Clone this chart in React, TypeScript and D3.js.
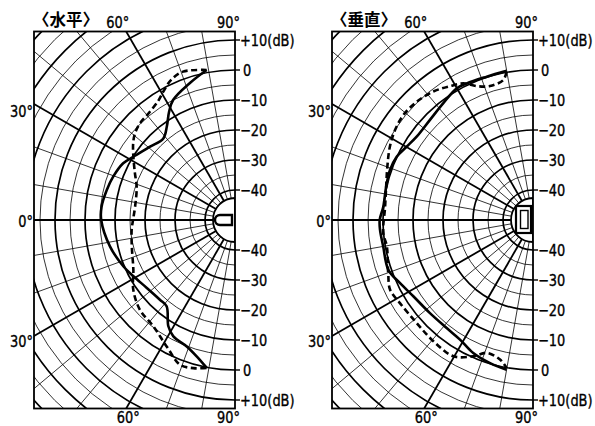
import React from 'react';
import * as d3 from 'd3';

// ---------- data ----------
const dbTickValues = [10, 0, -10, -20, -30, -40];
const dbTickLabels = ['+10(dB)', '0', '−10', '−20', '−30', '−40'];
const gridDbLevels = [-40, -35, -30, -25, -20, -15, -10, -5, 0, 5, 10, 15, 20, 25, 30, 35, 40];
const spokeAngles = [-80, -70, -60, -50, -40, -30, -20, -10, 0, 10, 20, 30, 40, 50, 60, 70, 80];
const majorSpokeAngles = [-60, -30, 0, 30, 60];
const panelTitles = ['〈水平〉', '〈垂直〉'];

// 水平 (horizontal) – angle in degrees (0 = left axis, +90 = up), level in dB
const horizSolidAngles = [79.3, 71.8, 62.7, 58.6, 54.1, 48.7, 40.8, 31.9, 26.9, 19.6, 13.2, 5.7, 0, -11.9, -22.5, -29, -37.6, -46.7, -51.6, -57.9, -62.1, -69.1, -74.3, -79.2];
const horizSolidDb = [0.9, -1.9, -5.0, -7.8, -11.3, -13.8, -12.6, -10.1, -8.2, -6.9, -6.1, -5.3, -5.4, -7.4, -9.7, -11.3, -12.9, -13.5, -13.3, -8.2, -6.1, -4.9, -2.8, 0.2];
const horizDashedAngles = [79.3, 70.7, 65.4, 60.8, 57.1, 50.6, 45.5, 40.9, 37, 31.9, 25, 18.7, 7.6, 0, -5.4, -14.3, -26, -34.4, -43.4, -52.5, -61.6, -69.2, -74.3, -79.2];
const horizDashedDb = [0.9, 2.4, 1.3, -1.0, -2.8, -4.3, -4.8, -5.9, -7.5, -10.1, -13.2, -15.4, -16.4, -16, -15.4, -14.5, -12.3, -8.9, -6.4, -5.3, -2.1, 1.6, 1.3, 0.2];

// 垂直 (vertical)
const vertSolidAngles = [80, 72.1, 64.1, 59.9, 52.5, 44.2, 35.6, 30.1, 24.9, 19.3, 12.8, 5.1, 0, -3.6, -10, -19, -25.3, -32.5, -42.1, -51.4, -58.6, -65.8, -73.3, -80];
const vertSolidDb = [0.5, 0.2, 0.6, 0.7, -0.9, -2.1, -2.3, -1.3, 0.1, 0.5, 0.2, 0.1, 1.1, 1.1, 0.7, 1.0, -0.9, -2.7, -3.7, -3.9, -3.3, -1.4, -0.2, 0.7];
const vertDashedAngles = [79.9, 78, 72.2, 67.2, 63, 58.2, 52.2, 45.5, 39, 33.1, 27.1, 20.1, 12.8, 5.1, -5, -10.2, -20.1, -26, -32, -41.5, -50.6, -59.7, -66.3, -70.8, -76.7, -79.9];
const vertDashedDb = [0.2, -2.3, -3.1, -1.6, 1.1, 2.5, 4.2, 5.3, 5.6, 4.9, 3.6, 1.7, 0.2, -0.5, 0.1, -0.5, 1.4, 3.0, 2.3, 1.8, 2.3, 2.6, -0.4, -3.1, -2.2, 0.1];

// ---------- layout ----------
const W = 595;
const H = 426;
const CY = 220;
const BOX_W = 201;
const BOX_TOP = 188.5;
const BOX_BOTTOM = 188.5;
const INNER_R = 22;

const rScale = d3.scaleLinear().domain([-40, 10]).range([30, 180]);

const toRad = (deg: number) => (deg * Math.PI) / 180;

const lineGen = d3
  .lineRadial<[number, number]>()
  .angle((d) => toRad(d[0] - 90))
  .radius((d) => rScale(d[1]))
  .curve(d3.curveCatmullRom.alpha(0.5));

const zip = (a: number[], b: number[]): [number, number][] => a.map((v, i) => [v, b[i]]);

const FONT = "'DejaVu Sans Condensed', 'DejaVu Sans', sans-serif";
const CJK = "'Noto Sans CJK JP', 'Noto Sans CJK SC', sans-serif";
const FS = 16;
const SX = 0.9;

type LabelProps = {
  x: number;
  y: number;
  anchor?: 'start' | 'middle' | 'end';
  middle?: boolean;
  children: React.ReactNode;
};

function Label({ x, y, anchor = 'start', middle = false, children }: LabelProps) {
  return (
    <g transform={`translate(${x},${y}) scale(${SX},1)`}>
      <text
        x={0}
        y={0}
        dy={middle ? '0.36em' : undefined}
        textAnchor={anchor}
        fontFamily={FONT}
        fontSize={FS}
        fill="#000"
        stroke="#000"
        strokeWidth={0.35}
      >
        {children}
      </text>
    </g>
  );
}

type PanelProps = {
  id: string;
  cx: number;
  title: string;
  solid: [number, number][];
  dashed: [number, number][];
  icon: 'h' | 'v';
};

function Panel({ id, cx, title, solid, dashed, icon }: PanelProps) {
  const clipId = `clip-${id}`;
  const t30 = Math.tan(toRad(30));
  const t60 = Math.tan(toRad(60));
  return (
    <g transform={`translate(${cx},${CY})`}>
      <defs>
        <clipPath id={clipId}>
          <rect x={-BOX_W} y={-BOX_TOP} width={BOX_W} height={BOX_TOP + BOX_BOTTOM} />
        </clipPath>
      </defs>
      <rect x={-BOX_W} y={-BOX_TOP} width={BOX_W} height={BOX_TOP + BOX_BOTTOM} fill="#fff" />
      <g clipPath={`url(#${clipId})`}>
        {gridDbLevels.map((L) => {
          const r = rScale(L);
          const major = L % 10 === 0;
          return (
            <path
              key={`c${L}`}
              d={`M0,${-r}A${r},${r} 0 0 0 0,${r}`}
              fill="none"
              stroke="#000"
              strokeWidth={major ? 1.7 : 0.8}
            />
          );
        })}
        {spokeAngles.map((a) => {
          const major = majorSpokeAngles.includes(a);
          const r0 = INNER_R;
          const r1 = 320;
          return (
            <line
              key={`s${a}`}
              x1={-r0 * Math.cos(toRad(a))}
              y1={-r0 * Math.sin(toRad(a))}
              x2={-r1 * Math.cos(toRad(a))}
              y2={-r1 * Math.sin(toRad(a))}
              stroke="#000"
              strokeWidth={major ? 1.8 : 0.8}
            />
          );
        })}
        <path
          d={`M0,${-INNER_R}A${INNER_R},${INNER_R} 0 0 0 0,${INNER_R}Z`}
          fill="#fff"
          stroke="#000"
          strokeWidth={1.8}
        />
        <path d={lineGen(dashed) || ''} fill="none" stroke="#000" strokeWidth={2.6} strokeDasharray="6,3.5" />
        <path d={lineGen(solid) || ''} fill="none" stroke="#000" strokeWidth={2.6} strokeLinejoin="round" />
      </g>
      {icon === 'h' ? (
        <path d="M-3,-5H-15A5,5 0 0 0 -15,5H-3Z" fill="#fff" stroke="#000" strokeWidth={2.4} />
      ) : (
        <g>
          <rect x={-17} y={-14} width={15} height={27} fill="#fff" stroke="#000" strokeWidth={2.2} />
          <rect x={-12.5} y={-9.5} width={7.5} height={18} fill="none" stroke="#000" strokeWidth={1.4} />
        </g>
      )}
      <rect
        x={-BOX_W}
        y={-BOX_TOP}
        width={BOX_W}
        height={BOX_TOP + BOX_BOTTOM}
        fill="none"
        stroke="#000"
        strokeWidth={1.8}
      />
      {dbTickValues.map((v, i) => {
        const r = rScale(v);
        return (
          <g key={`t${v}`}>
            {[-1, 1].map((s) => (
              <g key={s}>
                <line x1={0} x2={5} y1={s * r} y2={s * r} stroke="#000" strokeWidth={1.4} />
                <Label x={v === 0 ? 8 : 5} y={s * r} middle>
                  {dbTickLabels[i]}
                </Label>
              </g>
            ))}
          </g>
        );
      })}
      <text x={-BOX_W - 1} y={-194} fontFamily={CJK} fontWeight={700} fontSize={16.5} fill="#000">
        {title}
      </text>
      <Label x={-BOX_TOP / t60 + 3} y={-192} anchor="end">
        60°
      </Label>
      <Label x={5} y={-192} anchor="end">
        90°
      </Label>
      <Label x={-BOX_TOP / t60 + 2} y={203} anchor="middle">
        60°
      </Label>
      <Label x={5} y={203} anchor="end">
        90°
      </Label>
      <Label x={-BOX_W - 1} y={-BOX_W * t30 + 7} anchor="end" middle>
        30°
      </Label>
      <Label x={-BOX_W - 1} y={BOX_W * t30 + 5} anchor="end" middle>
        30°
      </Label>
      <Label x={-BOX_W - 1} y={1} anchor="end" middle>
        0°
      </Label>
    </g>
  );
}

export default function App() {
  return (
    <svg
      width={W}
      height={H}
      viewBox={`0 0 ${W} ${H}`}
      style={{ position: 'absolute', left: 0, top: 0, background: '#fff' }}
    >
      <rect width={W} height={H} fill="#fff" />
      <Panel
        id="h"
        cx={235}
        title={panelTitles[0]}
        solid={zip(horizSolidAngles, horizSolidDb)}
        dashed={zip(horizDashedAngles, horizDashedDb)}
        icon="h"
      />
      <Panel
        id="v"
        cx={533}
        title={panelTitles[1]}
        solid={zip(vertSolidAngles, vertSolidDb)}
        dashed={zip(vertDashedAngles, vertDashedDb)}
        icon="v"
      />
    </svg>
  );
}
